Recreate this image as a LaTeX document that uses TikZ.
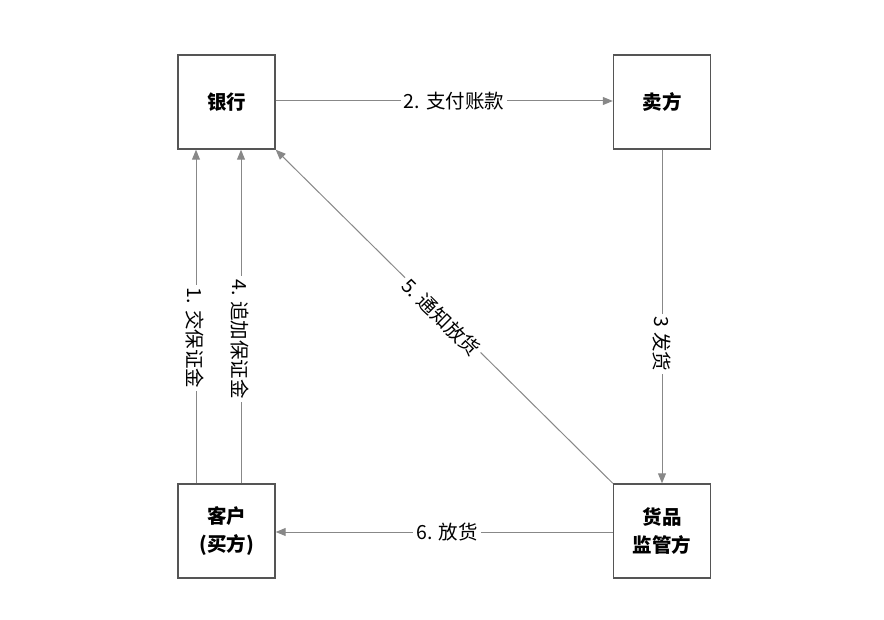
\documentclass[tikz,border=0pt]{standalone}
\usepackage{fontspec}
\setmainfont{Noto Sans CJK SC}
\usetikzlibrary{arrows.meta}
\definecolor{boxline}{HTML}{555555}
\definecolor{arrline}{HTML}{888888}
\tikzset{
  box/.style={draw=boxline, line width=1.4pt, minimum width=97pt, minimum height=94pt, inner sep=0pt, align=center, font=\fontsize{19.5}{28}\selectfont\bfseries},
  conn/.style={draw=arrline, line width=1pt, -{Triangle[length=10pt,width=8pt]}, arrline},
  lab/.style={fill=white, text=black, inner sep=3pt, font=\fontsize{19.5}{24}\selectfont}
}
\begin{document}
\begin{tikzpicture}[x=1pt,y=-1pt]
\useasboundingbox (0,0) rectangle (884,620);
\node[box] (bank) at (226.5,102) {银行};
\node[box] (seller) at (662,102) {卖方};
\node[box] (cust) at (226.5,531) {客户\\(买方)};
\node[box] (goods) at (662,531) {货品\\监管方};
% 2
\draw[conn] (bank.east |- 0,101) -- (seller.west |- 0,101);
\node[lab] (l2) at (454,101) {2. 支付账款};
% 3
\draw[conn] (seller.south) -- (goods.north);
\node[lab, rotate=-90] (l3) at (662,344) {3 发货};
% 6
\draw[conn] (goods.west |- 0,532) -- (cust.east |- 0,532);
\node[lab] (l6) at (447,532) {6. 放货};
% 5
\draw[conn] (goods.north west) -- (bank.south east);
\node[lab, rotate=-44.7] (l5) at (441,317) {5. 通知放货};
% 1 and 4
\draw[conn] (cust.north -| 196,0) -- (bank.south -| 196,0);
\node[lab, rotate=-90] (l1) at (195,338) {1. 交保证金};
\draw[conn] (cust.north -| 241,0) -- (bank.south -| 241,0);
\node[lab, rotate=-90] (l4) at (240,339) {4. 追加保证金};
\end{tikzpicture}
\end{document}
